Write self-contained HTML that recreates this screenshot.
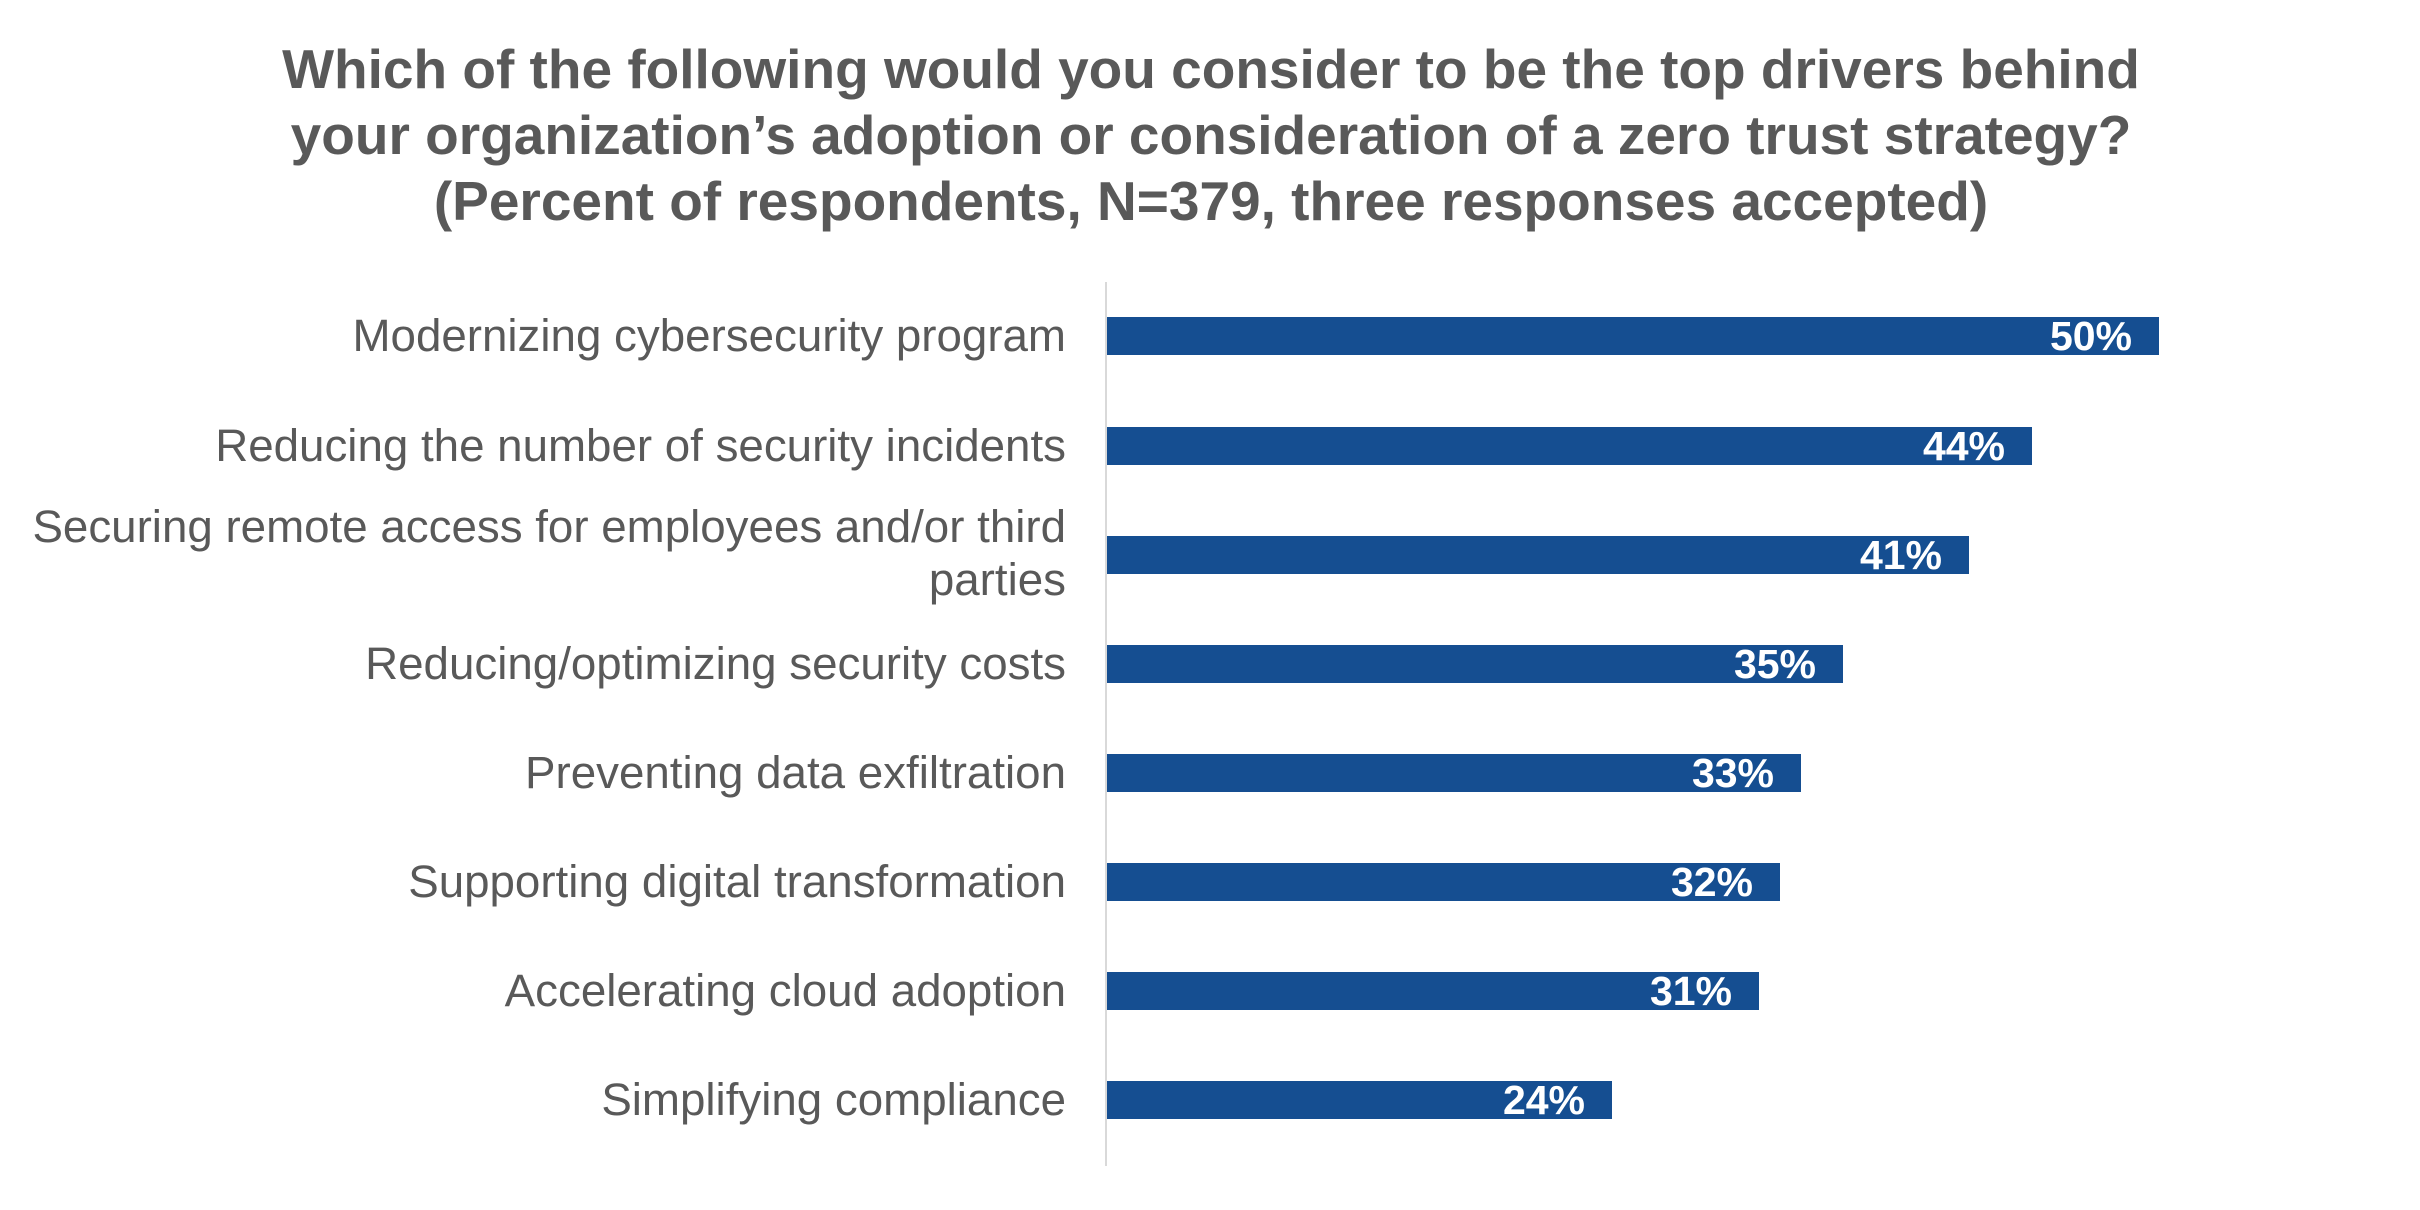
<!DOCTYPE html>
<html><head><style>
body{margin:0;width:2420px;height:1210px;background:#fff;position:relative;overflow:hidden;font-family:"Liberation Sans",Arial,sans-serif;}
.t{position:absolute;left:0;width:2422px;top:36px;text-align:center;font-weight:bold;font-size:55px;line-height:66px;color:#595959;}
.ax{position:absolute;left:1105px;top:282px;width:2px;height:884px;background:#d9d9d9;}
.b{position:absolute;left:1107px;height:38px;background:#154e91;}
.v{position:absolute;right:27px;top:0;line-height:38px;color:#fff;font-weight:bold;font-size:41px;}
.l{position:absolute;right:1354px;color:#595959;font-size:45.7px;line-height:53px;text-align:right;white-space:nowrap;}
</style></head><body>
<div class="t">Which of the following would you consider to be the top drivers behind<br>your organization’s adoption or consideration of a zero trust strategy?<br>(Percent of respondents, N=379, three responses accepted)</div>
<div class="ax"></div>
<div class="b" style="top:317px;width:1052px"><span class="v">50%</span></div>
<div class="b" style="top:427px;width:925px"><span class="v">44%</span></div>
<div class="b" style="top:536px;width:862px"><span class="v">41%</span></div>
<div class="b" style="top:645px;width:736px"><span class="v">35%</span></div>
<div class="b" style="top:754px;width:694px"><span class="v">33%</span></div>
<div class="b" style="top:863px;width:673px"><span class="v">32%</span></div>
<div class="b" style="top:972px;width:652px"><span class="v">31%</span></div>
<div class="b" style="top:1081px;width:505px"><span class="v">24%</span></div>
<div class="l" style="top:309px">Modernizing cybersecurity program</div>
<div class="l" style="top:419px">Reducing the number of security incidents</div>
<div class="l" style="top:500px;text-align:left">Securing remote access for employees and/or third<br><span style="display:block;text-align:right">parties</span></div>
<div class="l" style="top:637px">Reducing/optimizing security costs</div>
<div class="l" style="top:746px">Preventing data exfiltration</div>
<div class="l" style="top:855px">Supporting digital transformation</div>
<div class="l" style="top:964px">Accelerating cloud adoption</div>
<div class="l" style="top:1073px">Simplifying compliance</div>
</body></html>
